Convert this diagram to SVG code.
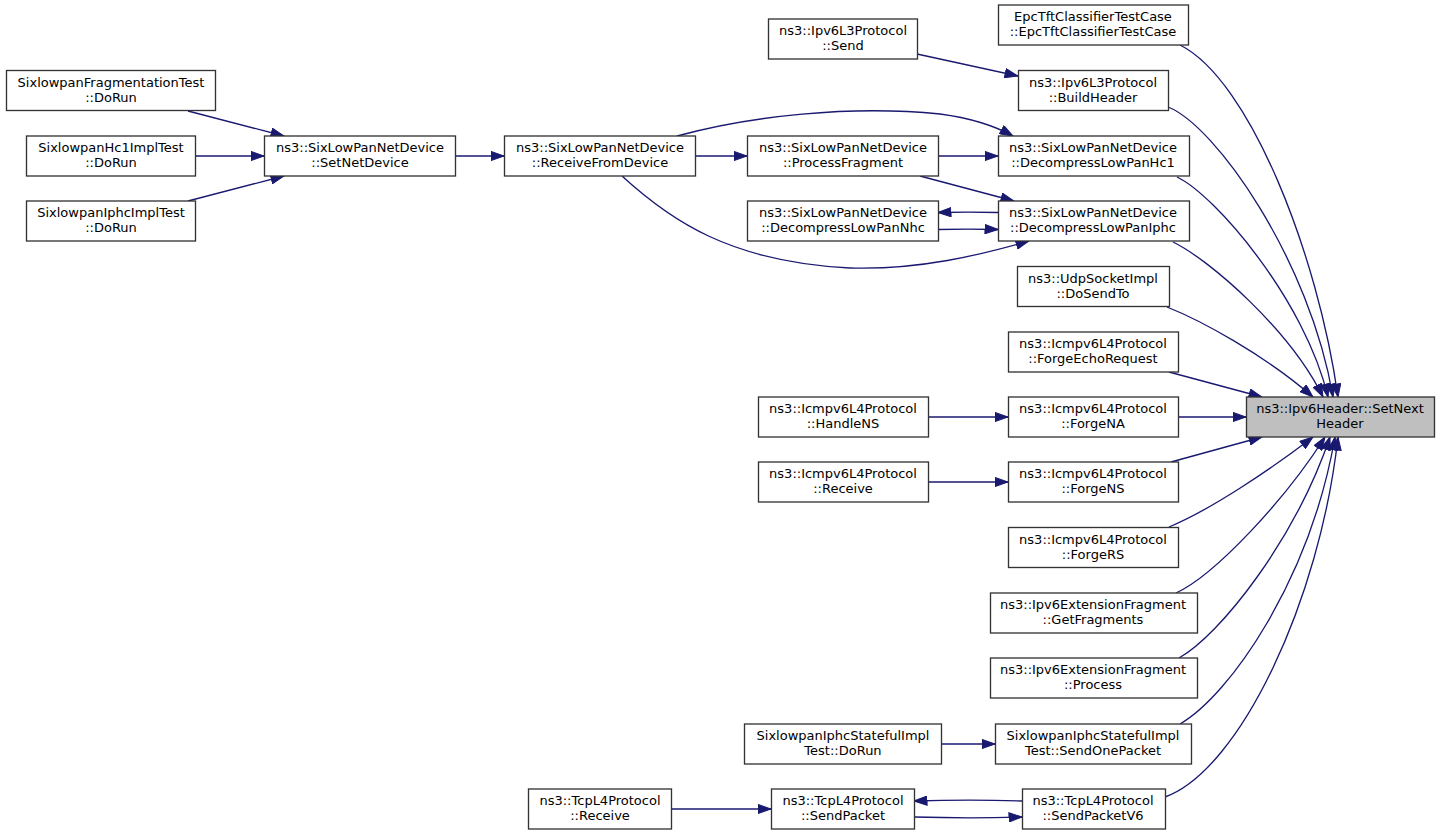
<svg xmlns="http://www.w3.org/2000/svg" width="1440" height="835" viewBox="0 0 1440 835">
<style>
.node rect{fill:#ffffff;stroke:#333333;stroke-width:1.33}
.node.hl rect{fill:#bfbfbf}
.node text{font-family:"DejaVu Sans","Liberation Sans",sans-serif;font-size:13px;text-anchor:middle;fill:#000000}
.edge path{fill:none;stroke:#191970;stroke-width:1.33;marker-end:url(#arr)}
</style>
<defs>
<marker id="arr" markerUnits="userSpaceOnUse" markerWidth="14" markerHeight="10" viewBox="0 0 14 10" refX="13.5" refY="5" orient="auto">
<path d="M0.5,0.4 L13.5,5 L0.5,9.6 Z" fill="#191970" stroke="#191970" stroke-width="1"/>
</marker>
</defs>
<rect width="1440" height="835" fill="#ffffff"/>

<g id="connectors" class="edge">
<path d="M188,111 L284,136"/>
<path d="M195,156 L264,156"/>
<path d="M188,201 L284,176"/>
<path d="M455,156 L504,156"/>
<path d="M695,156 L747,156"/>
<path d="M677,136 C750,116 850,105 940,114 C970,118 995,126 1013,136"/>
<path d="M622,176 C670,220 730,262 850,268 C920,270 980,255 1029,241"/>
<path d="M938,156 L998,156"/>
<path d="M920,176 L1014,201"/>
<path d="M998,212.5 C978,212 958,212 938,212.5"/>
<path d="M938,229.5 C958,229 978,229 998,229.5"/>
<path d="M917,54 L1018,76"/>
<path d="M928,417 L1008,417"/>
<path d="M928,482 L1008,482"/>
<path d="M941,744 L995,744"/>
<path d="M671,809 L771,809"/>
<path d="M1022,801 C990,800 950,800 914,801"/>
<path d="M914,817 C950,818 990,818 1022,817"/>
<path d="M1180,45 C1250,80 1318,255 1338,397"/>
<path d="M1168,107 C1215,125 1310,260 1333,397"/>
<path d="M1177,177 C1215,195 1305,300 1328,397"/>
<path d="M1173,242 C1210,260 1290,330 1323,397"/>
<path d="M1167,307 C1200,320 1265,355 1313,397"/>
<path d="M1169,372 L1262,397"/>
<path d="M1178,417 L1246,417"/>
<path d="M1171,462 L1262,437"/>
<path d="M1169,527 C1210,510 1270,470 1313,437"/>
<path d="M1176,593 C1215,575 1285,500 1325,437"/>
<path d="M1179,658 C1220,635 1295,540 1330,437"/>
<path d="M1180,724 C1230,695 1310,580 1335,437"/>
<path d="M1165,797 C1240,770 1320,600 1338,437"/>
</g>

<g id="n_fragtest" class="node"><rect x="6.5" y="70.5" width="209" height="40"/><text x="111" y="86.5">SixlowpanFragmentationTest</text><text x="111" y="101.5">::DoRun</text></g>
<g id="n_hc1test" class="node"><rect x="26.5" y="136" width="169" height="40"/><text x="111" y="152">SixlowpanHc1ImplTest</text><text x="111" y="167">::DoRun</text></g>
<g id="n_iphctest" class="node"><rect x="26.5" y="201" width="169" height="40"/><text x="111" y="217">SixlowpanIphcImplTest</text><text x="111" y="232">::DoRun</text></g>
<g id="n_setnetdevice" class="node"><rect x="264.5" y="136" width="191" height="40"/><text x="360" y="152">ns3::SixLowPanNetDevice</text><text x="360" y="167">::SetNetDevice</text></g>
<g id="n_receivefromdevice" class="node"><rect x="504.5" y="136" width="191" height="40"/><text x="600" y="152">ns3::SixLowPanNetDevice</text><text x="600" y="167">::ReceiveFromDevice</text></g>
<g id="n_l3send" class="node"><rect x="768.5" y="19" width="149" height="40"/><text x="843" y="35">ns3::Ipv6L3Protocol</text><text x="843" y="50">::Send</text></g>
<g id="n_processfragment" class="node"><rect x="747.5" y="136" width="191" height="40"/><text x="843" y="152">ns3::SixLowPanNetDevice</text><text x="843" y="167">::ProcessFragment</text></g>
<g id="n_nhc" class="node"><rect x="747.5" y="201" width="191" height="40"/><text x="843" y="217">ns3::SixLowPanNetDevice</text><text x="843" y="232">::DecompressLowPanNhc</text></g>
<g id="n_handlens" class="node"><rect x="758.5" y="397" width="170" height="40"/><text x="843" y="413">ns3::Icmpv6L4Protocol</text><text x="843" y="428">::HandleNS</text></g>
<g id="n_icmpreceive" class="node"><rect x="758.5" y="462" width="170" height="40"/><text x="843" y="478">ns3::Icmpv6L4Protocol</text><text x="843" y="493">::Receive</text></g>
<g id="n_statefuldorun" class="node"><rect x="744.5" y="724" width="197" height="40"/><text x="843" y="740">SixlowpanIphcStatefulImpl</text><text x="843" y="755">Test::DoRun</text></g>
<g id="n_tcpreceive" class="node"><rect x="528.5" y="789" width="143" height="40"/><text x="600" y="805">ns3::TcpL4Protocol</text><text x="600" y="820">::Receive</text></g>
<g id="n_sendpacket" class="node"><rect x="771.5" y="789" width="143" height="40"/><text x="843" y="805">ns3::TcpL4Protocol</text><text x="843" y="820">::SendPacket</text></g>
<g id="n_epctft" class="node"><rect x="998.5" y="5" width="190" height="40"/><text x="1093" y="21">EpcTftClassifierTestCase</text><text x="1093" y="36">::EpcTftClassifierTestCase</text></g>
<g id="n_buildheader" class="node"><rect x="1018.5" y="70.5" width="150" height="40"/><text x="1093" y="86.5">ns3::Ipv6L3Protocol</text><text x="1093" y="101.5">::BuildHeader</text></g>
<g id="n_hc1" class="node"><rect x="998.5" y="136" width="191" height="40"/><text x="1093" y="152">ns3::SixLowPanNetDevice</text><text x="1093" y="167">::DecompressLowPanHc1</text></g>
<g id="n_iphc" class="node"><rect x="998.5" y="201" width="191" height="40"/><text x="1093" y="217">ns3::SixLowPanNetDevice</text><text x="1093" y="232">::DecompressLowPanIphc</text></g>
<g id="n_dosendto" class="node"><rect x="1017.5" y="266.5" width="152" height="40"/><text x="1093" y="282.5">ns3::UdpSocketImpl</text><text x="1093" y="297.5">::DoSendTo</text></g>
<g id="n_forgeecho" class="node"><rect x="1008.5" y="332" width="170" height="40"/><text x="1093" y="348">ns3::Icmpv6L4Protocol</text><text x="1093" y="363">::ForgeEchoRequest</text></g>
<g id="n_forgena" class="node"><rect x="1008.5" y="397" width="170" height="40"/><text x="1093" y="413">ns3::Icmpv6L4Protocol</text><text x="1093" y="428">::ForgeNA</text></g>
<g id="n_forgens" class="node"><rect x="1008.5" y="462" width="170" height="40"/><text x="1093" y="478">ns3::Icmpv6L4Protocol</text><text x="1093" y="493">::ForgeNS</text></g>
<g id="n_forgers" class="node"><rect x="1008.5" y="527.5" width="170" height="40"/><text x="1093" y="543.5">ns3::Icmpv6L4Protocol</text><text x="1093" y="558.5">::ForgeRS</text></g>
<g id="n_getfragments" class="node"><rect x="990.5" y="593" width="207" height="40"/><text x="1093" y="609">ns3::Ipv6ExtensionFragment</text><text x="1093" y="624">::GetFragments</text></g>
<g id="n_process" class="node"><rect x="990.5" y="658" width="207" height="40"/><text x="1093" y="674">ns3::Ipv6ExtensionFragment</text><text x="1093" y="689">::Process</text></g>
<g id="n_sendonepacket" class="node"><rect x="995.5" y="724" width="196" height="40"/><text x="1093" y="740">SixlowpanIphcStatefulImpl</text><text x="1093" y="755">Test::SendOnePacket</text></g>
<g id="n_sendpacketv6" class="node"><rect x="1022.5" y="789" width="143" height="40"/><text x="1093" y="805">ns3::TcpL4Protocol</text><text x="1093" y="820">::SendPacketV6</text></g>
<g id="n_setnextheader" class="node hl"><rect x="1246.5" y="397" width="188" height="40"/><text x="1340" y="413">ns3::Ipv6Header::SetNext</text><text x="1340" y="428">Header</text></g>
</svg>
